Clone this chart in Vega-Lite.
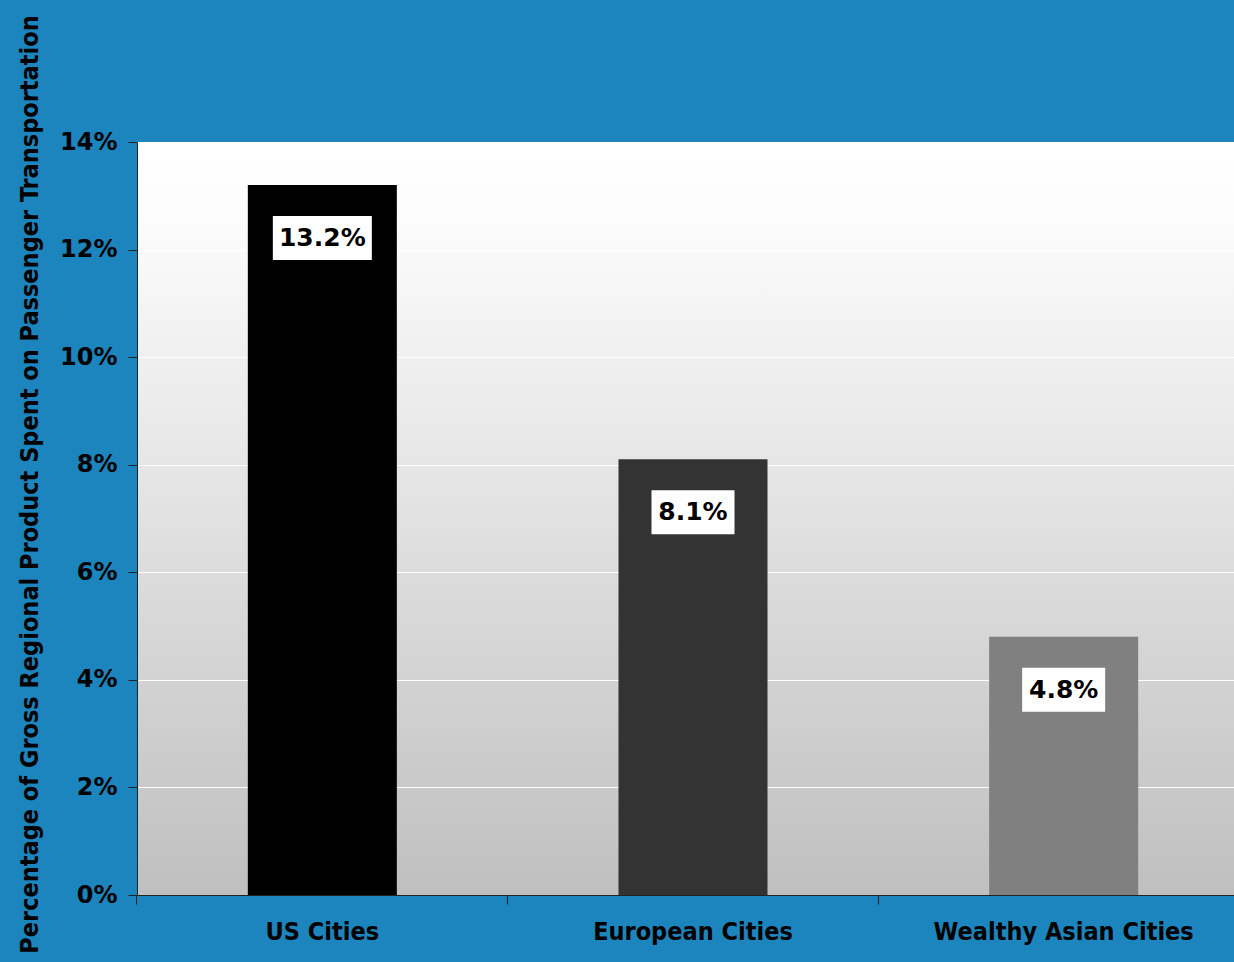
{
  "$schema": "https://vega.github.io/schema/vega-lite/v6.json",
  "autosize": {"type": "none"},
  "padding": {"left": 137, "top": 142, "right": 0, "bottom": 67},
  "width": 1112,
  "height": 753,
  "background": "#1c85bd",
  "config": {
    "view": {
      "fill": {"gradient": "linear", "x1": 0, "y1": 0, "x2": 0, "y2": 1,
        "stops": [{"offset": 0, "color": "#ffffff"}, {"offset": 0.1, "color": "#fcfcfc"}, {"offset": 1, "color": "#bfbfbf"}]},
      "stroke": "#a0a0a0",
      "strokeWidth": 1
    },
    "axis": {
      "domainColor": "#222222",
      "tickColor": "#222222",
      "tickSize": 9,
      "labelColor": "#000000",
      "titleColor": "#000000"
    }
  },
  "data": {
    "values": [
      {"city": "US Cities", "share": 0.132},
      {"city": "European Cities", "share": 0.081},
      {"city": "Wealthy Asian Cities", "share": 0.048}
    ]
  },
  "encoding": {
    "x": {
      "field": "city", "type": "nominal", "sort": null,
      "scale": {"paddingInner": 0.598, "paddingOuter": 0.299},
      "axis": {
        "title": null, "labelAngle": 0, "bandPosition": -0.744,
        "labelFont": "DejaVu Sans Condensed", "labelFontWeight": "bold", "labelFontSize": 25,
        "labelPadding": 15, "labelLimit": 500, "grid": false
      }
    }
  },
  "layer": [
    {
      "mark": {"type": "bar"},
      "encoding": {
        "y": {
          "field": "share", "type": "quantitative",
          "scale": {"domain": [0, 0.14], "nice": false},
          "axis": {
            "values": [0, 0.02, 0.04, 0.06, 0.08, 0.1, 0.12, 0.14],
            "format": ".0%",
            "labelFont": "DejaVu Sans", "labelFontWeight": "bold", "labelFontSize": 24,
            "labelPadding": 11,
            "grid": true, "gridColor": "#ffffff", "gridOpacity": 1, "gridWidth": 1,
            "title": "Percentage of Gross Regional Product Spent on Passenger Transportation",
            "titleFont": "DejaVu Sans Condensed", "titleFontWeight": "bold", "titleFontSize": 25,
            "titleAngle": 270, "titleAlign": "center", "titleBaseline": "middle",
            "titleX": -108, "titleY": 342, "titleLimit": 1200
          }
        },
        "color": {
          "field": "city", "type": "nominal",
          "scale": {"domain": ["US Cities", "European Cities", "Wealthy Asian Cities"], "range": ["#000000", "#333333", "#808080"]},
          "legend": null
        }
      }
    },
    {
      "transform": [{"filter": "datum.city === 'US Cities'"}],
      "mark": {"type": "bar", "color": "#ffffff", "width": 99, "yOffset": 31, "y2Offset": 75},
      "encoding": {
        "y": {"field": "share", "type": "quantitative"},
        "y2": {"field": "share"}
      }
    },
    {
      "transform": [{"filter": "datum.city !== 'US Cities'"}],
      "mark": {"type": "bar", "color": "#ffffff", "width": 83, "yOffset": 31, "y2Offset": 75},
      "encoding": {
        "y": {"field": "share", "type": "quantitative"},
        "y2": {"field": "share"}
      }
    },
    {
      "mark": {"type": "text", "font": "DejaVu Sans", "fontWeight": "bold", "fontSize": 25, "color": "#000000", "baseline": "middle", "align": "center", "dy": 53},
      "encoding": {
        "y": {"field": "share", "type": "quantitative"},
        "text": {"field": "share", "type": "quantitative", "format": ".1%"}
      }
    }
  ]
}
